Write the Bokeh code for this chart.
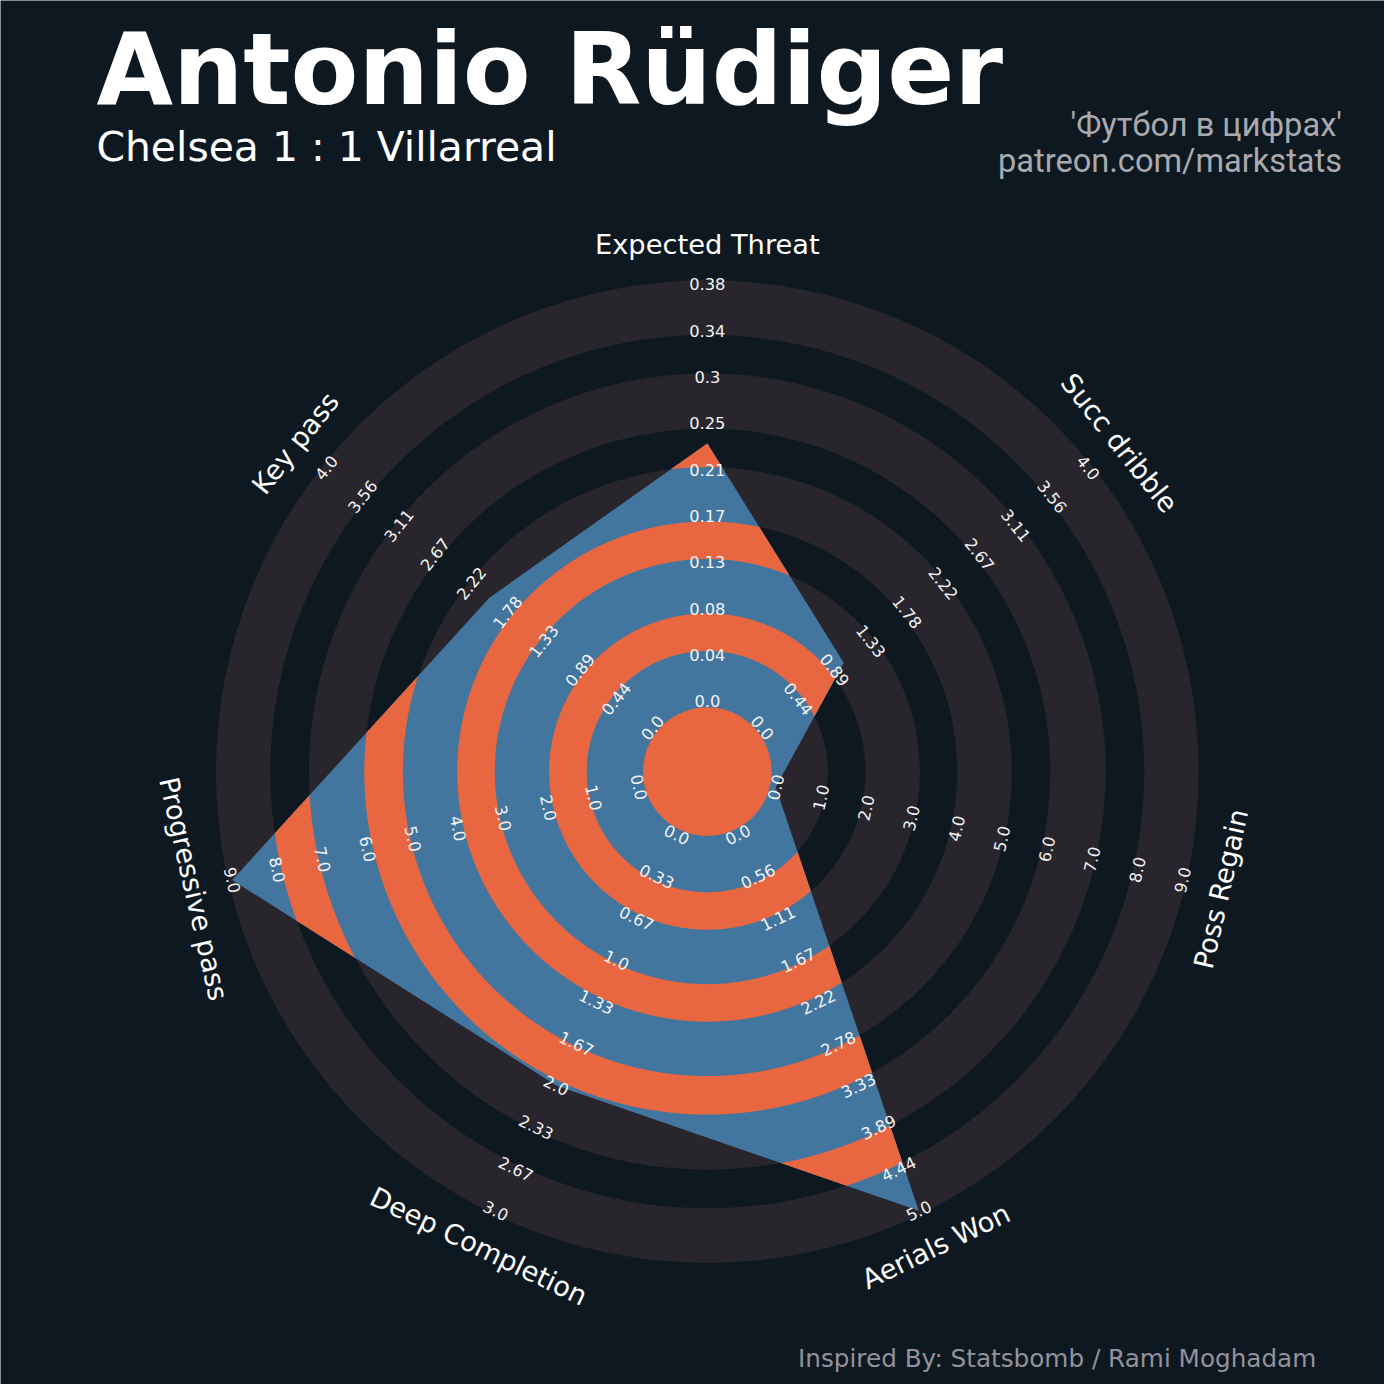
import numpy as np
from bokeh.plotting import figure
from bokeh.models import Range1d, ColumnDataSource
from bokeh.embed import file_html
from bokeh.resources import INLINE
from bokeh.core.properties import value

# ---------------- data ----------------
params = ["Expected Threat", "Succ dribble", "Poss Regain", "Aerials Won",
          "Deep Completion", "Progressive pass", "Key pass"]
range_low = [0, 0, 0, 0, 0, 0, 0]
range_high = [0.38, 4, 9, 5, 3, 9, 4]
player_values = [0.235, 1.0, 0.0, 5.0, 2.0, 9.0, 2.0]

ticks_xthreat = ["0.0", "0.04", "0.08", "0.13", "0.17", "0.21", "0.25", "0.3", "0.34", "0.38"]
ticks_dribble = ["0.0", "0.44", "0.89", "1.33", "1.78", "2.22", "2.67", "3.11", "3.56", "4.0"]
ticks_regain = ["0.0", "1.0", "2.0", "3.0", "4.0", "5.0", "6.0", "7.0", "8.0", "9.0"]
ticks_aerials = ["0.0", "0.56", "1.11", "1.67", "2.22", "2.78", "3.33", "3.89", "4.44", "5.0"]
ticks_deep = ["0.0", "0.33", "0.67", "1.0", "1.33", "1.67", "2.0", "2.33", "2.67", "3.0"]
ticks_prog = ["0.0", "1.0", "2.0", "3.0", "4.0", "5.0", "6.0", "7.0", "8.0", "9.0"]
ticks_keypass = ["0.0", "0.44", "0.89", "1.33", "1.78", "2.22", "2.67", "3.11", "3.56", "4.0"]
all_ticks = [ticks_xthreat, ticks_dribble, ticks_regain, ticks_aerials,
             ticks_deep, ticks_prog, ticks_keypass]

title_text = "Antonio Rüdiger"
subtitle_text = "Chelsea 1 : 1 Villarreal"
credit_lines = ["'Футбол в цифрах'", "patreon.com/markstats"]
endnote_text = "Inspired By: Statsbomb / Rami Moghadam"

# ---------------- style / geometry ----------------
BG = "#0e1821"
RING = "#28252c"
BLUE = "#43769f"
ORANGE = "#e86640"
FONT = "DejaVu Sans"
SIZE = 1384
S = SIZE / 1400.0           # data units are 1400-px design units

def fs(px):
    return "%.1fpx" % (px * S)

CX, CY = 715, 620
R0, R9 = 71, 493
CENTER_R = 65
BOUNDS = [65, 122, 160, 215, 253, 308, 347, 403, 442, 497]
GREY_BANDS = [(BOUNDS[i], BOUNDS[i + 1]) for i in range(0, 10, 2)]
ORANGE_BANDS = [(0, CENTER_R)] + [(BOUNDS[i], BOUNDS[i + 1]) for i in range(1, 9, 2)]
LABEL_R = 533

n = len(params)
angles = np.radians(90 - np.arange(n) * 360.0 / n)

def to_r(v, lo, hi):
    return R0 + (v - lo) / (hi - lo) * (R9 - R0)

radii = np.array([to_r(v, lo, hi) for v, lo, hi in zip(player_values, range_low, range_high)])
PV = np.stack([radii * np.cos(angles), radii * np.sin(angles)], axis=1)

def rho(th):
    d = np.stack([np.cos(th), np.sin(th)], axis=1)
    out = np.full(th.shape, np.inf)
    for i in range(n):
        a = PV[i]
        b = PV[(i + 1) % n]
        e = b - a
        den = d[:, 0] * e[1] - d[:, 1] * e[0]
        with np.errstate(divide="ignore", invalid="ignore"):
            t = (a[0] * e[1] - a[1] * e[0]) / den
            s = (a[0] * d[:, 1] - a[1] * d[:, 0]) / den
        ok = (s >= -1e-9) & (s <= 1 + 1e-9) & (t > 0)
        out = np.where(ok & (t < out), t, out)
    return out

th = np.concatenate([np.linspace(0, 2 * np.pi, 3600, endpoint=False), np.mod(angles, 2 * np.pi)])
th = np.unique(th)
rh = rho(th)

def clipped_band(r1, r2):
    rr = np.minimum(r2, rh)
    mask = rh > r1
    polys = []
    if mask.all():
        ox = list(CX + rr * np.cos(th))
        oy = list(CY + rr * np.sin(th))
        if r1 > 0:
            polys.append(([ox, list(CX + r1 * np.cos(th))], [oy, list(CY + r1 * np.sin(th))]))
        else:
            polys.append(([ox], [oy]))
        return polys
    k = int(np.argmin(mask))
    idx = np.roll(np.arange(len(th)), -k)
    runs, cur = [], []
    for j in idx:
        if mask[j]:
            cur.append(j)
        elif cur:
            runs.append(cur); cur = []
    if cur:
        runs.append(cur)
    for run in runs:
        run = np.array(run)
        px = list(CX + rr[run] * np.cos(th[run])) + list(CX + r1 * np.cos(th[run][::-1]))
        py = list(CY + rr[run] * np.sin(th[run])) + list(CY + r1 * np.sin(th[run][::-1]))
        polys.append(([px], [py]))
    return polys

# ---------------- figure ----------------
p = figure(width=SIZE, height=SIZE, x_range=Range1d(0, 1400), y_range=Range1d(0, 1400),
           output_backend="svg", toolbar_location=None, min_border=0,
           x_axis_location=None, y_axis_location=None)
p.grid.visible = False
p.outline_line_color = None
p.background_fill_color = BG
p.border_fill_color = BG

# grey background bands
p.annulus(x=[CX] * len(GREY_BANDS), y=[CY] * len(GREY_BANDS),
          inner_radius=[a for a, b in GREY_BANDS], outer_radius=[b for a, b in GREY_BANDS],
          fill_color=RING, line_color=None)

# player polygon
p.patch(x=list(CX + PV[:, 0]), y=list(CY + PV[:, 1]), fill_color=BLUE, line_color=None)

# orange bands clipped to the polygon
for r1, r2 in ORANGE_BANDS:
    for pxs, pys in clipped_band(r1, r2):
        p.multi_polygons(xs=[[pxs]], ys=[[pys]], fill_color=ORANGE, line_color=None)

def rot(a):
    return a - np.pi / 2 if np.sin(a) > 1e-6 else a + np.pi / 2

# tick labels
tx, ty, tt, ta = [], [], [], []
tick_r = np.linspace(R0, R9, 10)
for i, a in enumerate(angles):
    for r, lab in zip(tick_r, all_ticks[i]):
        tx.append(CX + r * np.cos(a)); ty.append(CY + r * np.sin(a))
        tt.append(lab); ta.append(rot(a))
p.text(x="x", y="y", text="t", angle="a",
       source=ColumnDataSource(dict(x=tx, y=ty, t=tt, a=ta)),
       text_font=value(FONT), text_font_size=fs(16.5), text_color="#f2f2f2",
       text_align="center", text_baseline="middle")

# parameter labels
lx = [CX + LABEL_R * np.cos(a) for a in angles]
ly = [CY + LABEL_R * np.sin(a) for a in angles]
la = [rot(a) for a in angles]
p.text(x="x", y="y", text="t", angle="a",
       source=ColumnDataSource(dict(x=lx, y=ly, t=params, a=la)),
       text_font=value(FONT), text_font_size=fs(27.6), text_color="white",
       text_align="center", text_baseline="middle")

# titles and notes: y is the middle line of the text, in design px from the top
def put(x, ymid, txt, size, color, align="left", font=FONT, style="normal"):
    p.text(x=[x], y=[1400 - ymid], text=[txt], text_font=value(font), text_font_size=fs(size),
           text_font_style=style, text_color=color, text_align=align,
           text_baseline="middle")

put(97, 108 - 0.38 * 100, title_text, 100, "white", style="bold")
put(97, 164 - 0.38 * 41.4, subtitle_text, 41.4, "white")
put(1357, 126, credit_lines[0], 33, "#a9a9ae", align="right", font="Roboto")
put(1357, 162, credit_lines[1], 33, "#a9a9ae", align="right", font="Roboto")
put(1331, 1383 - 0.38 * 25, endnote_text, 25, "#95919b", align="right")

open("out.html", "w").write(file_html(p, INLINE))
